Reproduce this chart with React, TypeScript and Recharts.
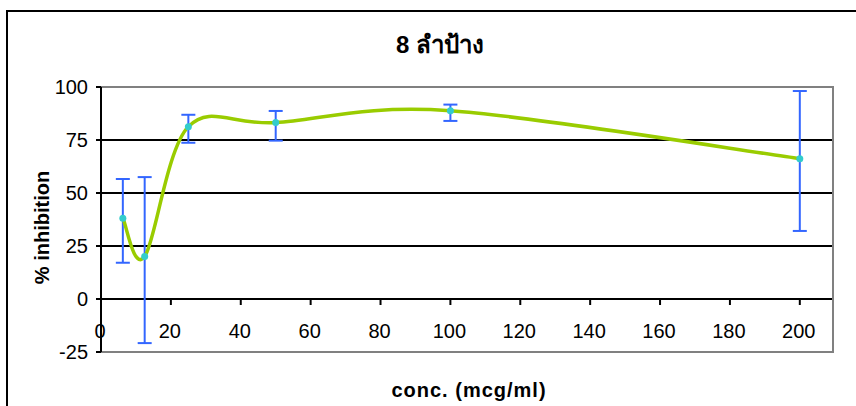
import { ComposedChart, Line, ErrorBar, XAxis, YAxis, CartesianGrid, ReferenceArea, Label } from 'recharts'

const CONC = [6.25, 12.5, 25, 50, 100, 200]
const INHIBITION = [38.1, 20.0, 81.3, 83.2, 88.8, 66.2]
const ERR_LOW = [21.0, 40.8, 7.6, 8.5, 4.8, 34.1]
const ERR_HIGH = [18.5, 37.5, 5.6, 5.5, 2.9, 31.9]
const X_TICKS = [0, 20, 40, 60, 80, 100, 120, 140, 160, 180, 200]
const Y_TICKS = [-25, 0, 25, 50, 75, 100]

const W = 856
const H = 406
const MARGIN = { top: 87, right: 23, bottom: 24, left: 0 }
const X_AXIS_H = 30
const Y_AXIS_W = 101
const X_MAX = 209.5
const Y_MIN = -25
const Y_MAX = 100
const PLOT_H = H - MARGIN.top - MARGIN.bottom - X_AXIS_H
const ZERO_OFFSET = ((0 - Y_MIN) / (Y_MAX - Y_MIN)) * PLOT_H

const FONT = '"Liberation Sans", Arial, sans-serif'

const data = CONC.map((x, i) => ({
  x,
  y: INHIBITION[i],
  err: [ERR_LOW[i], ERR_HIGH[i]],
}))

// Excel-like smoothing: cubic bezier with control points at 1/6 of neighbour span
const excelSmooth = (context: any) => {
  let pts: number[][] = []
  return {
    areaStart() {},
    areaEnd() {},
    lineStart() {
      pts = []
    },
    point(x: number, y: number) {
      pts.push([+x, +y])
    },
    lineEnd() {
      const n = pts.length
      if (!n) return
      context.moveTo(pts[0][0], pts[0][1])
      for (let i = 0; i < n - 1; i++) {
        const p0 = pts[Math.max(i - 1, 0)]
        const p1 = pts[i]
        const p2 = pts[i + 1]
        const p3 = pts[Math.min(i + 2, n - 1)]
        context.bezierCurveTo(
          p1[0] + (p2[0] - p0[0]) / 6,
          p1[1] + (p2[1] - p0[1]) / 6,
          p2[0] - (p3[0] - p1[0]) / 6,
          p2[1] - (p3[1] - p1[1]) / 6,
          p2[0],
          p2[1],
        )
      }
    },
  }
}

const XTick = ({ x, y, payload }: any) => (
  <g>
    <line x1={x} x2={x} y1={y - ZERO_OFFSET} y2={y - ZERO_OFFSET + 6} stroke="#000" strokeWidth={2} />
    <text x={x - 1} y={y - 14} textAnchor="middle" fontSize={20} fontFamily={FONT} fill="#000">
      {payload.value}
    </text>
  </g>
)

export default function App() {
  return (
    <div style={{ position: 'absolute', left: 0, top: 0, width: W, height: H, overflow: 'hidden', background: '#fff' }}>
      <div
        style={{
          position: 'absolute',
          left: 6,
          top: 10,
          width: W,
          height: H,
          border: '2px solid #000',
        }}
      />
      <div
        style={{
          position: 'absolute',
          left: 0,
          top: 30,
          width: 880,
          textAlign: 'center',
          fontFamily: FONT,
          fontWeight: 'bold',
          fontSize: 24,
          lineHeight: '30px',
        }}
      >
        8 ลำป้าง
      </div>
      <div style={{ position: 'absolute', left: 0, top: 0 }}>
        <ComposedChart width={W} height={H} data={data} margin={MARGIN}>
          <CartesianGrid vertical={false} stroke="#000" strokeWidth={2} />
          <ReferenceArea x1={0} x2={X_MAX} y1={Y_MIN} y2={Y_MAX} fill="none" stroke="#808080" strokeWidth={2} ifOverflow="visible" />
          <XAxis
            type="number"
            dataKey="x"
            domain={[0, X_MAX]}
            ticks={X_TICKS}
            interval={0}
            height={X_AXIS_H}
            axisLine={false}
            tickLine={false}
            tickSize={0}
            tickMargin={0}
            tick={<XTick />}
          >
            <Label
              content={({ viewBox }: any) => (
                <text
                  x={viewBox.x + viewBox.width / 2 + 2}
                  y={viewBox.y + 45}
                  textAnchor="middle"
                  fontSize={20}
                  fontWeight="bold"
                  fontFamily={FONT}
                  letterSpacing={1}
                  fill="#000"
                >
                  conc. (mcg/ml)
                </text>
              )}
            />
          </XAxis>
          <YAxis
            type="number"
            domain={[Y_MIN, Y_MAX]}
            ticks={Y_TICKS}
            interval={0}
            width={Y_AXIS_W}
            allowDataOverflow
            axisLine={{ stroke: '#000', strokeWidth: 2 }}
            tickLine={{ stroke: '#000', strokeWidth: 2 }}
            tickSize={5}
            tickMargin={8}
            tick={{ fill: '#000', fontSize: 20, fontFamily: FONT }}
          >
            <Label
              content={({ viewBox }: any) => {
                const cx = 42
                const cy = viewBox.y + viewBox.height / 2 + 8
                return (
                  <text
                    x={cx}
                    y={cy}
                    transform={`rotate(-90, ${cx}, ${cy})`}
                    textAnchor="middle"
                    dominantBaseline="central"
                    fontSize={20}
                    fontWeight="bold"
                    fontFamily={FONT}
                    fill="#000"
                  >
                    % inhibition
                  </text>
                )
              }}
            />
          </YAxis>
          <Line
            dataKey="y"
            type={excelSmooth as any}
            stroke="#99CC00"
            strokeWidth={3.5}
            dot={{ r: 3.5, fill: '#33CCCC', stroke: 'none' }}
            activeDot={false}
            isAnimationActive={false}
          >
            <ErrorBar dataKey="err" direction="y" width={7} stroke="#3366FF" strokeWidth={2} isAnimationActive={false} />
          </Line>
        </ComposedChart>
      </div>
    </div>
  )
}
